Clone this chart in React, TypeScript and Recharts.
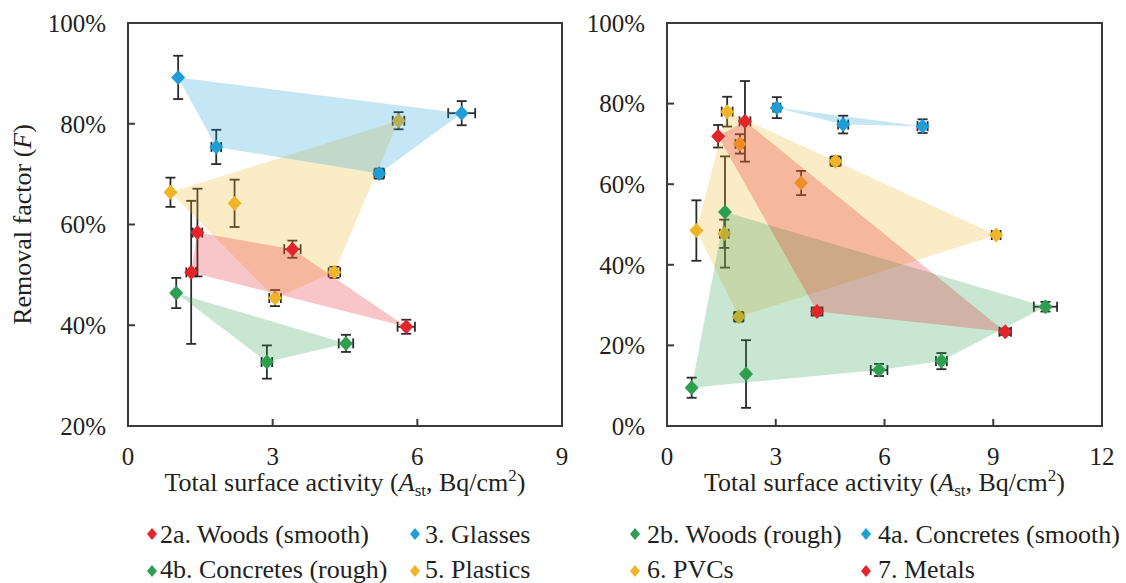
import { ScatterChart, Scatter, XAxis, YAxis, ErrorBar, ReferenceArea } from 'recharts';

type Pt = { x: number; y: number; ex: number; ey: number };

const FONT = 'Liberation Serif, DejaVu Serif, serif';
const INK = '#231f20';
const AXIS = '#3a3a3a';
const BAR = '#2b2b2b';
const RED = '#e3242b';
const BLUE = '#1f9dd6';
const GREEN = '#2e9f50';
const YELLOW = '#f0b429';

// left panel
const woodsSmooth: Pt[] = [
  { x: 1.44, y: 58.4, ex: 0.1, ey: 8.7 },
  { x: 1.31, y: 50.5, ex: 0.1, ey: 14.2 },
  { x: 3.41, y: 55.1, ex: 0.17, ey: 1.7 },
  { x: 5.77, y: 39.7, ex: 0.18, ey: 1.4 },
];
const glasses: Pt[] = [
  { x: 1.04, y: 89.2, ex: 0, ey: 4.3 },
  { x: 1.83, y: 75.4, ex: 0.1, ey: 3.4 },
  { x: 5.21, y: 70.1, ex: 0.1, ey: 1.0 },
  { x: 6.92, y: 82.1, ex: 0.28, ey: 2.4 },
];
const concretesRough: Pt[] = [
  { x: 1.0, y: 46.4, ex: 0, ey: 3.0 },
  { x: 2.88, y: 32.7, ex: 0.11, ey: 3.3 },
  { x: 4.52, y: 36.4, ex: 0.15, ey: 1.7 },
];
const plastics: Pt[] = [
  { x: 0.88, y: 66.4, ex: 0, ey: 2.9 },
  { x: 2.21, y: 64.2, ex: 0, ey: 4.7 },
  { x: 5.61, y: 80.6, ex: 0.12, ey: 1.7 },
  { x: 4.28, y: 50.5, ex: 0.12, ey: 1.1 },
  { x: 3.05, y: 45.4, ex: 0.12, ey: 1.6 },
];

// right panel
const woodsRough: Pt[] = [
  { x: 0.68, y: 9.5, ex: 0, ey: 2.5 },
  { x: 2.18, y: 12.9, ex: 0, ey: 8.4 },
  { x: 5.85, y: 13.9, ex: 0.23, ey: 1.5 },
  { x: 7.57, y: 16.1, ex: 0.15, ey: 2.0 },
  { x: 10.44, y: 29.6, ex: 0.32, ey: 1.2 },
  { x: 1.6, y: 53.1, ex: 0, ey: 13.8 },
];
const concretesSmooth: Pt[] = [
  { x: 3.03, y: 79.0, ex: 0.1, ey: 2.6 },
  { x: 4.86, y: 74.8, ex: 0.14, ey: 2.2 },
  { x: 7.05, y: 74.4, ex: 0.14, ey: 1.7 },
];
const pvcs: Pt[] = [
  { x: 1.66, y: 78.0, ex: 0.15, ey: 3.7 },
  { x: 2.01, y: 70.0, ex: 0.12, ey: 2.4 },
  { x: 4.65, y: 65.7, ex: 0.14, ey: 1.2 },
  { x: 3.7, y: 60.3, ex: 0, ey: 3.0 },
  { x: 9.08, y: 47.4, ex: 0.12, ey: 0.6 },
  { x: 0.81, y: 48.5, ex: 0, ey: 7.5 },
  { x: 1.58, y: 47.7, ex: 0.12, ey: 3.5 },
  { x: 1.98, y: 27.1, ex: 0.13, ey: 1.2 },
];
const metals: Pt[] = [
  { x: 1.41, y: 71.9, ex: 0, ey: 2.8 },
  { x: 2.15, y: 75.6, ex: 0.15, ey: 10.0 },
  { x: 4.14, y: 28.4, ex: 0.15, ey: 1.0 },
  { x: 9.33, y: 23.4, ex: 0.16, ey: 0.8 },
];

const leftXTicks = [0, 3, 6, 9];
const leftYTicks = [20, 40, 60, 80, 100];
const rightXTicks = [0, 3, 6, 9, 12];
const rightYTicks = [0, 20, 40, 60, 80, 100];

const leftLegend = [
  { name: '2a. Woods (smooth)', color: RED },
  { name: '3. Glasses', color: BLUE },
  { name: '4b. Concretes (rough)', color: GREEN },
  { name: '5. Plastics', color: YELLOW },
];
const rightLegend = [
  { name: '2b. Woods (rough)', color: GREEN },
  { name: '4a. Concretes (smooth)', color: BLUE },
  { name: '6. PVCs', color: YELLOW },
  { name: '7. Metals', color: RED },
];

// convex hull (monotone chain) of a series, used as its shaded region
function hull(pts: Pt[]): Pt[] {
  const p = [...pts].sort((a, b) => a.x - b.x || a.y - b.y);
  const cross = (o: Pt, a: Pt, b: Pt) => (a.x - o.x) * (b.y - o.y) - (a.y - o.y) * (b.x - o.x);
  const lower: Pt[] = [];
  for (const q of p) {
    while (lower.length >= 2 && cross(lower[lower.length - 2], lower[lower.length - 1], q) <= 0) lower.pop();
    lower.push(q);
  }
  const upper: Pt[] = [];
  for (const q of [...p].reverse()) {
    while (upper.length >= 2 && cross(upper[upper.length - 2], upper[upper.length - 1], q) <= 0) upper.pop();
    upper.push(q);
  }
  return lower.slice(0, -1).concat(upper.slice(0, -1));
}

const polygonLine = (fill: string) => (props: any) => {
  const pts = (props.points || []) as { x: number; y: number }[];
  if (!pts.length) return <g />;
  const d = pts.map((p, i) => `${i ? 'L' : 'M'}${p.x},${p.y}`).join(' ') + ' Z';
  return <path d={d} fill={fill} fillOpacity={0.26} stroke="none" />;
};

const Diamond = (props: any) => {
  const { cx, cy, fill } = props;
  return <polygon points={`${cx},${cy - 7.5} ${cx + 7},${cy} ${cx},${cy + 7.5} ${cx - 7},${cy}`} fill={fill} />;
};

const Empty = () => <g />;

const XTitle = (props: any) => {
  const vb = props.viewBox;
  return (
    <text x={vb.x + vb.width / 2} y={491} textAnchor="middle" fontFamily={FONT} fontSize={26} fill={INK}>
      Total surface activity (<tspan fontStyle="italic">A</tspan>
      <tspan fontSize={17} dy={5}>st</tspan>
      <tspan dy={-5}>, Bq/cm</tspan>
      <tspan fontSize={17} dy={-10}>2</tspan>
      <tspan dy={10}>)</tspan>
    </text>
  );
};

const YTitle = (props: any) => {
  const vb = props.viewBox;
  const cy = vb.y + vb.height / 2;
  return (
    <text transform={`translate(31,${cy}) rotate(-90)`} x={0} y={0} textAnchor="middle" fontFamily={FONT} fontSize={26} fill={INK}>
      Removal factor (<tspan fontStyle="italic">F</tspan>)
    </text>
  );
};

const tickStyle = { fontSize: 25, fill: INK, fontFamily: FONT };

function markers(data: Pt[], color: string) {
  return (
    <Scatter data={data} fill={color} shape={Diamond} isAnimationActive={false}>
      <ErrorBar dataKey="ey" direction="y" width={5} stroke={BAR} strokeWidth={1.8} />
      <ErrorBar dataKey="ex" direction="x" width={5} stroke={BAR} strokeWidth={1.8} />
    </Scatter>
  );
}

function region(data: Pt[], color: string) {
  return <Scatter data={hull(data)} line={polygonLine(color)} shape={Empty} isAnimationActive={false} />;
}

function Panel(props: {
  width: number;
  margin: { top: number; right: number; bottom: number; left: number };
  yWidth: number;
  xMax: number;
  yMin: number;
  xTicks: number[];
  yTicks: number[];
  yTitle: boolean;
  under: Pt[];
  underColor: string;
  series: { data: Pt[]; color: string }[];
}) {
  const { width, margin, yWidth, xMax, yMin, xTicks, yTicks, yTitle, under, underColor, series } = props;
  return (
    <ScatterChart width={width} height={500} margin={margin}>
      <ReferenceArea x1={0} x2={xMax} y1={yMin} y2={100} fill="none" stroke={AXIS} strokeWidth={2} ifOverflow="visible" />
      <XAxis
        type="number"
        dataKey="x"
        domain={[0, xMax]}
        ticks={xTicks}
        height={70}
        tick={tickStyle}
        tickSize={-7}
        tickMargin={28}
        axisLine={{ stroke: AXIS, strokeWidth: 2 }}
        tickLine={{ stroke: AXIS, strokeWidth: 2 }}
        label={(p: any) => <XTitle {...p} />}
      />
      <YAxis
        type="number"
        dataKey="y"
        domain={[yMin, 100]}
        ticks={yTicks}
        width={yWidth}
        tick={tickStyle}
        tickFormatter={(v: number) => `${v}%`}
        tickSize={-7}
        tickMargin={29}
        axisLine={{ stroke: AXIS, strokeWidth: 2 }}
        tickLine={{ stroke: AXIS, strokeWidth: 2 }}
        label={yTitle ? (p: any) => <YTitle {...p} /> : undefined}
      />
      {region(under, underColor)}
      {markers(under, underColor)}
      {series.map((s) => region(s.data, s.color))}
      {series.map((s) => markers(s.data, s.color))}
    </ScatterChart>
  );
}

function LegendBlock(props: { items: { name: string; color: string }[]; cols: number[]; texts: number[] }) {
  const rows = [534, 571];
  const base = [543, 578];
  return (
    <>
      {props.items.map((it, i) => {
        const c = i % 2;
        const r = Math.floor(i / 2);
        const cx = props.cols[c];
        const cy = rows[r];
        return (
          <g key={it.name}>
            <polygon points={`${cx},${cy - 6} ${cx + 5},${cy} ${cx},${cy + 6} ${cx - 5},${cy}`} fill={it.color} />
            <text x={props.texts[c]} y={base[r]} fontFamily={FONT} fontSize={26} fill={INK}>
              {it.name}
            </text>
          </g>
        );
      })}
    </>
  );
}

export default function App() {
  return (
    <div style={{ position: 'absolute', left: 0, top: 0, width: 1126, height: 583, background: '#fff', overflow: 'hidden' }}>
      <div style={{ position: 'absolute', left: 0, top: 0 }}>
        <Panel
          width={580}
          margin={{ top: 23, right: 18, bottom: 4, left: 28 }}
          yWidth={100}
          xMax={9}
          yMin={20}
          xTicks={leftXTicks}
          yTicks={leftYTicks}
          yTitle
          under={plastics}
          underColor={YELLOW}
          series={[
            { data: glasses, color: BLUE },
            { data: woodsSmooth, color: RED },
            { data: concretesRough, color: GREEN },
          ]}
        />
      </div>
      <div style={{ position: 'absolute', left: 580, top: 0 }}>
        <Panel
          width={546}
          margin={{ top: 23, right: 24, bottom: 4, left: 7 }}
          yWidth={80}
          xMax={12}
          yMin={0}
          xTicks={rightXTicks}
          yTicks={rightYTicks}
          yTitle={false}
          under={pvcs}
          underColor={YELLOW}
          series={[
            { data: woodsRough, color: GREEN },
            { data: metals, color: RED },
            { data: concretesSmooth, color: BLUE },
          ]}
        />
      </div>
      <svg width={1126} height={583} style={{ position: 'absolute', left: 0, top: 0, pointerEvents: 'none' }}>
        <LegendBlock items={leftLegend} cols={[152, 415]} texts={[160, 425]} />
        <LegendBlock items={rightLegend} cols={[635, 866]} texts={[647, 878]} />
      </svg>
    </div>
  );
}
